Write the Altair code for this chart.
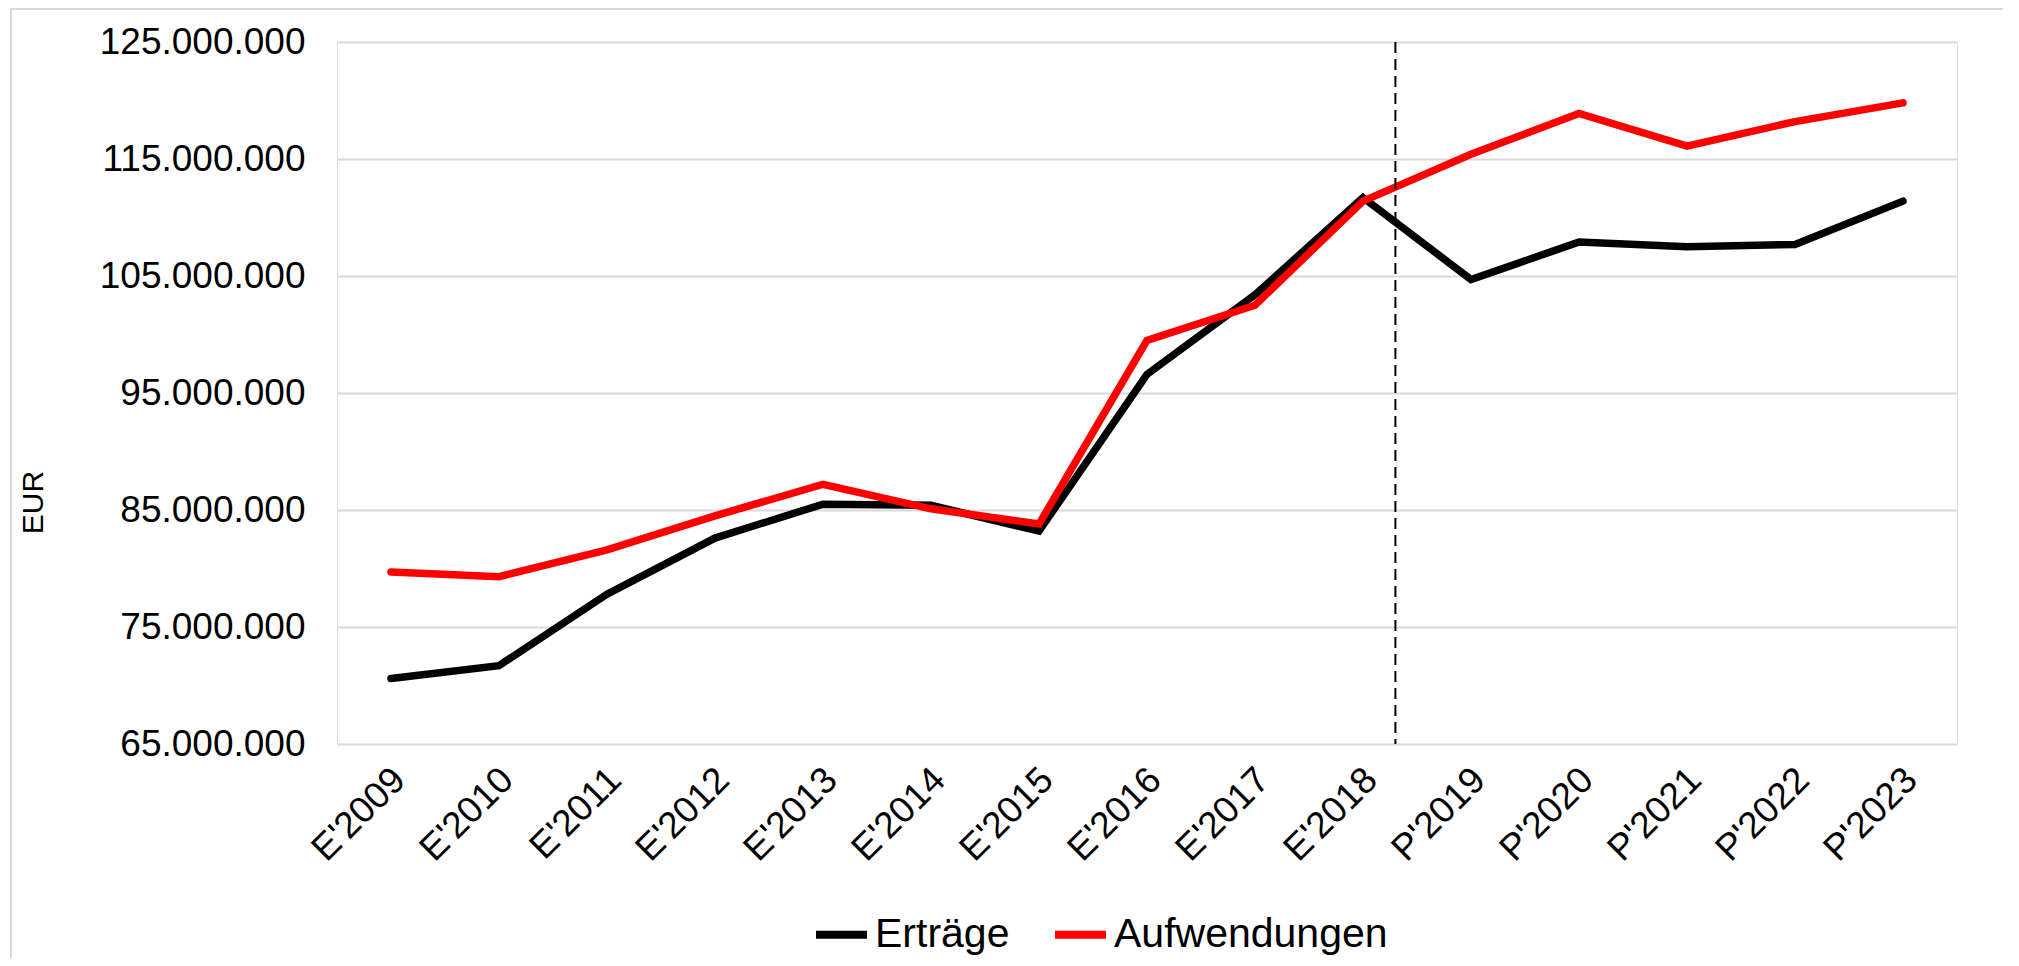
import json
import altair as alt
import pandas as pd

categories = ["E'2009", "E'2010", "E'2011", "E'2012", "E'2013", "E'2014", "E'2015",
              "E'2016", "E'2017", "E'2018", "P'2019", "P'2020", "P'2021", "P'2022", "P'2023"]
series_names = ["Erträge", "Aufwendungen"]
ertraege = [70.6e6, 71.7e6, 77.8e6, 82.6e6, 85.5e6, 85.4e6, 83.2e6, 96.6e6,
            103.4e6, 111.7e6, 104.7e6, 107.9e6, 107.5e6, 107.7e6, 111.4e6]
aufwendungen = [79.7e6, 79.3e6, 81.6e6, 84.5e6, 87.2e6, 85.1e6, 83.8e6, 99.5e6,
                102.5e6, 111.4e6, 115.4e6, 118.9e6, 116.1e6, 118.2e6, 119.8e6]
y_ticks = [65e6, 75e6, 85e6, 95e6, 105e6, 115e6, 125e6]
divider_index = [9.3]
colors = ["#000000", "#ff0000"]

rows = []
for i, c in enumerate(categories):
    rows.append({"idx": i, "cat": c, "series": series_names[0], "value": ertraege[i]})
    rows.append({"idx": i, "cat": c, "series": series_names[1], "value": aufwendungen[i]})
df = pd.DataFrame(rows)
div_df = pd.DataFrame({"idx": divider_index, "ytop": [y_ticks[-1]], "ybot": [y_ticks[0]]})

FONT = "Liberation Sans"
W, H = 1620, 702
PL, PT = 329, 34

x_enc = alt.X("idx:Q",
              scale=alt.Scale(domain=[-0.5, len(categories) - 0.5], nice=False, zero=False),
              axis=alt.Axis(values=list(range(len(categories))),
                            labelExpr=json.dumps(categories) + "[datum.value]",
                            labelAngle=-45, labelAlign="right", labelBaseline="middle",
                            labelFontSize=37, labelFont=FONT, labelColor="#000000",
                            labelPadding=30, labelOffset=8, labelLimit=0,
                            ticks=False, domain=False, grid=False, title=None))
y_enc = alt.Y("value:Q",
              scale=alt.Scale(domain=[y_ticks[0], y_ticks[-1]], nice=False, zero=False),
              axis=alt.Axis(values=y_ticks,
                            labelExpr="replace(format(datum.value, ',d'), /,/g, '.')",
                            labelFontSize=37, labelFont=FONT, labelColor="#000000",
                            labelPadding=32, labelLimit=0, ticks=False, domain=False,
                            grid=True, gridColor="#d9d9d9", gridWidth=2,
                            title="EUR", titleFont=FONT, titleFontSize=30,
                            titleFontWeight="normal", titleColor="#000000",
                            titleAngle=-90, titleX=33.5 - 337, titleY=460,
                            titleAlign="center", titleBaseline="middle"))
color_enc = alt.Color("series:N",
                      scale=alt.Scale(domain=series_names, range=colors),
                      legend=alt.Legend(title=None, orient="none", direction="horizontal",
                                        legendX=475, legendY=863, padding=0,
                                        labelFont=FONT, labelFontSize=41, labelColor="#000000",
                                        labelLimit=0,
                                        symbolType="stroke", symbolStrokeWidth=8,
                                        symbolSize=2600, labelOffset=4, columnPadding=29))

base = alt.Chart(df)
frame = alt.Chart(div_df).mark_rect(fill="transparent", stroke="#d9d9d9", strokeWidth=2).encode(
    x=alt.value(3 - PL), x2=alt.value(2200), y=alt.value(1 - PT), y2=alt.value(1400))
line1 = base.transform_filter(alt.datum.series == series_names[0]).mark_line(
    strokeWidth=7.5, strokeJoin="miter", strokeCap="round").encode(x=x_enc, y=y_enc, color=color_enc)
line2 = base.transform_filter(alt.datum.series == series_names[1]).mark_line(
    strokeWidth=7.5, strokeJoin="miter", strokeCap="round").encode(x=x_enc, y=y_enc, color=color_enc)
divider = alt.Chart(div_df).mark_rule(color="#000000", strokeWidth=2, strokeDash=[11, 6]).encode(
    x="idx:Q", y="ytop:Q", y2="ybot:Q")

chart = alt.layer(frame, line1, line2, divider).properties(
    width=W, height=H,
    autosize=alt.AutoSizeParams(type="none"),
    padding={"left": PL, "top": PT, "right": 46, "bottom": 214},
).configure_view(strokeWidth=0).configure(font=FONT, background="#ffffff")

chart.save("out.html", embed_options={"renderer": "svg", "actions": False})
